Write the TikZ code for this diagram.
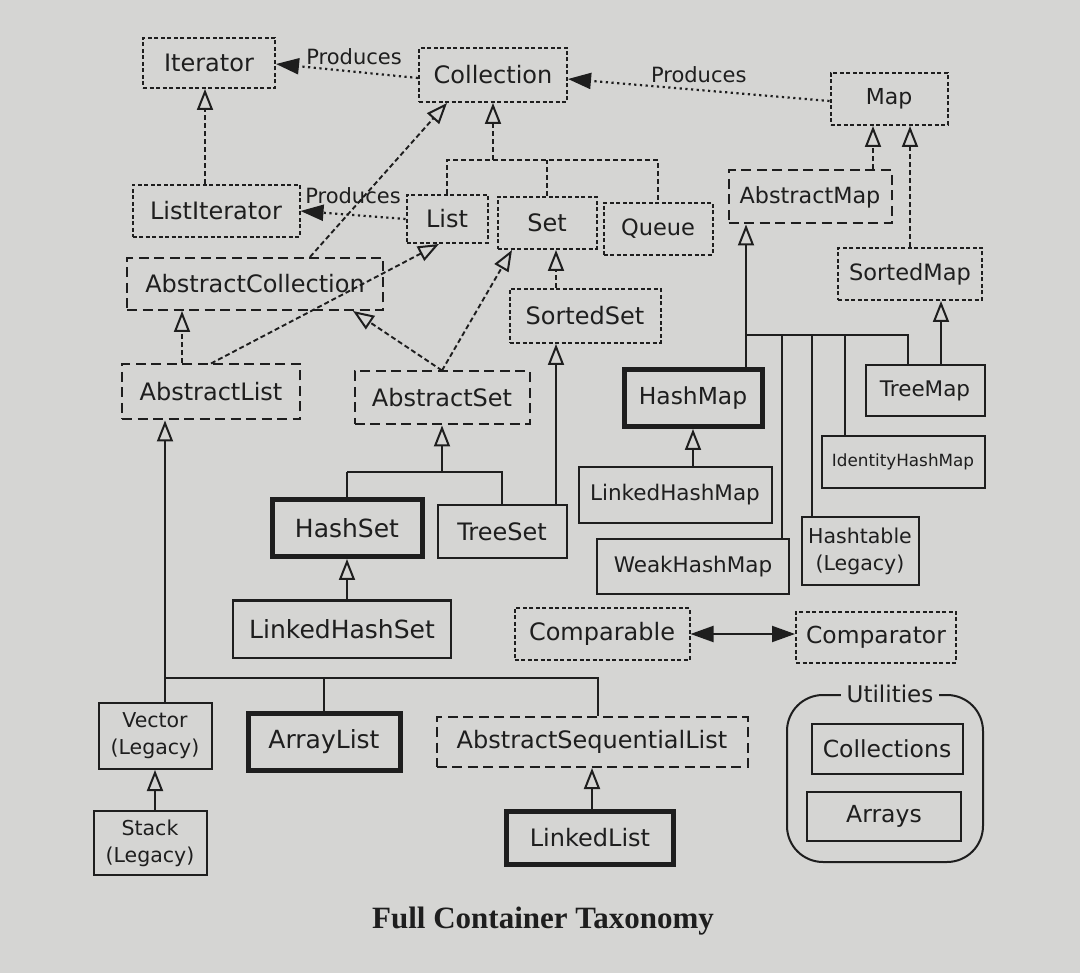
\documentclass[tikz,border=0pt]{standalone}
\usepackage{fontspec}
\setmainfont{DejaVu Sans}
\newfontfamily\titlefont{Liberation Serif}
\usetikzlibrary{arrows.meta}
\definecolor{paper}{HTML}{D5D5D3}
\definecolor{ink}{HTML}{1E1E1E}
\begin{document}
\begin{tikzpicture}[x=1pt,y=-1pt,
  every node/.style={inner sep=0pt, text=ink, font=\fontsize{24}{28}\selectfont},
  sz/.style n args={2}{minimum width=#1, minimum height=#2},
  fs/.style={font=\fontsize{#1}{28}\selectfont},
  iface/.style={draw=ink, line width=2pt, dash pattern=on 4pt off 2.5pt},
  abst/.style={draw=ink, line width=2pt, dash pattern=on 10pt off 5.5pt},
  conc/.style={draw=ink, line width=2pt},
  heavy/.style={draw=ink, line width=5pt},
  opentip/.tip={Triangle[open, length=21pt, width=16pt, line width=2pt]},
  filltip/.tip={Triangle[length=23pt, width=16pt]},
  implL/.style={draw=ink, line width=1.9pt, dash pattern=on 5pt off 3pt},
  implA/.style={implL, -opentip},
  extL/.style={draw=ink, line width=1.9pt},
  extA/.style={extL, -opentip},
  prod/.style={draw=ink, line width=2.2pt, dash pattern=on 2.2pt off 3.5pt, -filltip},
  both/.style={draw=ink, line width=2pt, filltip-filltip},
  plabel/.style={font=\fontsize{21}{24}\selectfont},
  legacy/.style={align=center, font=\fontsize{20.5}{27}\selectfont}
]
\useasboundingbox (0,0) rectangle (1080,973);
\fill[paper] (0,0) rectangle (1080,973);

% ---------- nodes ----------
\node[iface, sz={132}{50}] (Iterator) at (209,63) {Iterator};
\node[iface, sz={148}{54}] (Collection) at (493,75) {Collection};
\node[iface, sz={117}{52}, fs=22] (Map) at (889,99) {Map};
\node[iface, sz={167}{52}] (ListIterator) at (216,211) {ListIterator};
\node[iface, sz={81}{48}] (List) at (447,219) {List};
\node[iface, sz={99}{52}] (Set) at (547,223) {Set};
\node[iface, sz={109}{52}, fs=22.5] (Queue) at (658,229) {Queue};
\node[abst, sz={256}{52}] (AbsColl) at (255,284) {AbstractCollection};
\node[abst, sz={178}{55}] (AbsList) at (211,392) {AbstractList};
\node[abst, sz={175}{53}] (AbsSet) at (442,398) {AbstractSet};
\node[iface, sz={151}{54}] (SortedSet) at (585,316) {SortedSet};
\node[abst, sz={163}{53}, fs=22.3] (AbsMap) at (810,197) {AbstractMap};
\node[iface, sz={144}{52}, fs=22.5] (SortedMap) at (910,274) {SortedMap};
\node[heavy, sz={138}{57}, fs=23.4] (HashMap) at (693,398) {HashMap};
\node[conc, sz={119}{51}, fs=21.5] (TreeMap) at (925,391) {TreeMap};
\node[conc, sz={163}{52}, fs=16.8] (IdHashMap) at (903,462) {IdentityHashMap};
\node[conc, sz={193}{56}, fs=21.5] (LinkedHashMap) at (675,495) {LinkedHashMap};
\node[conc, sz={192}{55}, fs=21.5] (WeakHashMap) at (693,567) {WeakHashMap};
\node[conc, sz={117}{68}, legacy] (Hashtable) at (860,551) {Hashtable\\(Legacy)};
\node[heavy, sz={150}{57}, fs=25] (HashSet) at (347,528) {HashSet};
\node[conc, sz={129}{53}] (TreeSet) at (502,532) {TreeSet};
\node[conc, sz={218}{57}, fs=25] (LinkedHashSet) at (342,629) {LinkedHashSet};
\node[iface, sz={175}{52}] (Comparable) at (602,634) {Comparable};
\node[iface, sz={160}{51}, fs=23.4] (Comparator) at (876,637) {Comparator};
\node[conc, sz={113}{66}, legacy] (Vector) at (155,736) {Vector\\(Legacy)};
\node[heavy, sz={152}{57}, fs=25] (ArrayList) at (324,742) {ArrayList};
\node[abst, sz={311}{50}] (AbsSeqList) at (592,742) {AbstractSequentialList};
\node[conc, sz={113}{64}, legacy] (Stack) at (150,843) {Stack\\(Legacy)};
\node[heavy, sz={167}{53}] (LinkedList) at (590,838) {LinkedList};

\node[draw=ink, line width=2pt, rounded corners=36pt, sz={196}{167}] (Utilities) at (885,778.5) {};
\node[fill=paper, inner xsep=6pt, inner ysep=2pt, fs=23] (UtilLabel) at ([xshift=5pt]Utilities.north) {Utilities};
\node[conc, sz={151}{50}, fs=23.5] (Collections) at (887,749) {Collections};
\node[conc, sz={154}{49}, fs=23.5] (Arrays) at (884,816) {Arrays};

\node (Title) at (543,921) {\titlefont\bfseries\fontsize{31}{36}\selectfont Full Container Taxonomy};

% ---------- "Produces" connectors ----------
\draw[prod] ([yshift=-3pt]Collection.west) -- ([yshift=-1pt]Iterator.east) node[plabel, pos=0.45, above=6pt] (P1) {Produces};
\draw[prod] ([yshift=-2pt]Map.west) -- ([yshift=-4pt]Collection.east) node[plabel, pos=0.5, above=6pt] (P2) {Produces};
\draw[prod] (List.west) -- (ListIterator.east) node[plabel, pos=0.5, above=10pt] (P3) {Produces};

% ---------- interface inheritance (dashed) ----------
\draw[implA] (ListIterator.north -| Iterator.south) ++(-4,0) coordinate (liTop) -- (liTop |- Iterator.south);
\coordinate (cbus) at (493,160);
\draw[implL] (List.north) |- (cbus) -| (Queue.north);
\draw[implL] (Set.north) -- (Set.north |- cbus);
\draw[implA] (cbus) -- (Collection.south);
\draw[implA] ([xshift=55pt]AbsColl.north) -- ([xshift=-46pt]Collection.south);
\draw[implA] ([xshift=-29pt]AbsList.north) -- ([xshift=-29pt]AbsList.north |- AbsColl.south);
\draw[implA] (AbsList.north) -- ([xshift=-8pt]List.south);
\draw[implA] (AbsSet.north) -- ([xshift=98pt]AbsColl.south);
\draw[implA] (AbsSet.north) -- ([xshift=-35pt]Set.south);
\draw[implA] ([xshift=9pt]Set.south |- SortedSet.north) -- ([xshift=9pt]Set.south);
\draw[implA] ([xshift=-16pt]Map.south |- AbsMap.north) -- ([xshift=-16pt]Map.south);
\draw[implA] (SortedMap.north) -- (SortedMap.north |- Map.south);

% ---------- class inheritance (solid) ----------
% Set side
\coordinate (sbus) at (442,472);
\draw[extL] (HashSet.north |- sbus) -- (HashSet.north);
\draw[extL] (HashSet.north |- sbus) -| (TreeSet.north);
\draw[extA] (sbus) -- (AbsSet.south);
\draw[extA] ([xshift=-29pt]SortedSet.south |- TreeSet.north) -- ([xshift=-29pt]SortedSet.south);
\draw[extA] (HashSet.south |- LinkedHashSet.north) -- (HashSet.south);

% Map side
\coordinate (mbus) at (746,335);
\coordinate (dW) at (782,335);
\coordinate (dH) at (812,335);
\coordinate (dI) at (845,335);
\coordinate (dT) at (908,335);
\draw[extL] (mbus |- HashMap.north) -- (mbus) -- (dT) -- (dT |- TreeMap.north);
\draw[extL] (dW) -- (dW |- WeakHashMap.north);
\draw[extL] (dH) -- (dH |- Hashtable.north);
\draw[extL] (dI) -- (dI |- IdHashMap.north);
\draw[extA] (mbus) -- (mbus |- AbsMap.south);
\draw[extA] ([xshift=31pt]SortedMap.south |- TreeMap.north) -- ([xshift=31pt]SortedMap.south);
\draw[extA] (HashMap.south |- LinkedHashMap.north) -- (HashMap.south);

% List side
\coordinate (lbus) at (165,678);
\coordinate (lbusR) at (598,678);
\draw[extL] (lbus |- Vector.north) -- (lbus) -- (lbusR) -- (lbusR |- AbsSeqList.north);
\draw[extL] (ArrayList.north |- lbus) -- (ArrayList.north);
\draw[extA] (lbus) -- (lbus |- AbsList.south);
\draw[extA] (Vector.south |- Stack.north) -- (Vector.south);
\draw[extA] (AbsSeqList.south |- LinkedList.north) -- (AbsSeqList.south);

% Comparable <-> Comparator
\draw[both] (Comparable.east) -- (Comparable.east -| Comparator.west);
\end{tikzpicture}
\end{document}
